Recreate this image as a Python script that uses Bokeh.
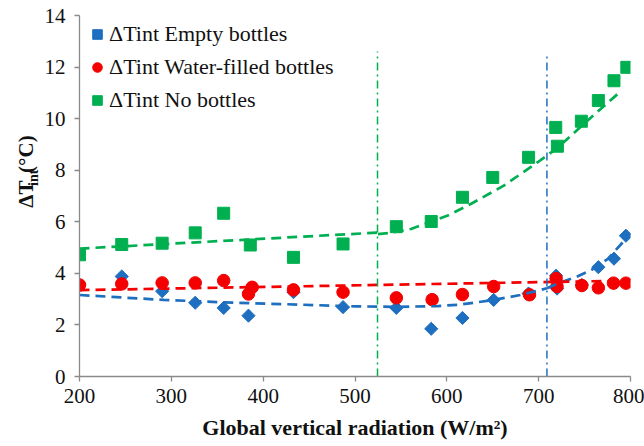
import math
from bokeh.plotting import figure
from bokeh.layouts import row
from bokeh.models import Range1d, Legend, LegendItem, FixedTicker, Label
from bokeh.embed import file_html
from bokeh.resources import INLINE

# ---------------- data ----------------
x_ticks = [200, 300, 400, 500, 600, 700, 800]
y_ticks = [0, 2, 4, 6, 8, 10, 12, 14]

empty_x = [200, 246, 290, 326, 357, 384, 433, 487, 545, 583, 617, 651, 689, 719, 720, 747, 765, 782, 795]
empty_y = [3.55, 3.88, 3.31, 2.86, 2.66, 2.36, 3.27, 2.69, 2.66, 1.85, 2.27, 2.97, 3.22, 3.91, 3.41, 3.55, 4.24, 4.57, 5.46]

water_x = [200, 246, 290, 326, 357, 384, 388, 433, 487, 545, 584, 617, 651, 690, 719, 720, 747, 765, 781.5, 795]
water_y = [3.55, 3.59, 3.63, 3.63, 3.72, 3.20, 3.46, 3.36, 3.27, 3.05, 2.98, 3.18, 3.49, 3.17, 3.80, 3.49, 3.53, 3.44, 3.62, 3.62]

none_x = [200, 246, 290, 326, 357, 386, 433, 487, 545, 583, 617, 650, 689, 718.6, 720.4, 746.5, 765, 782, 796]
none_y = [4.72, 5.12, 5.17, 5.57, 6.33, 5.10, 4.62, 5.14, 5.81, 6.01, 6.95, 7.72, 8.50, 9.66, 8.93, 9.90, 10.70, 11.47, 11.99]

# trend lines (dashed)
empty_trend1_x = [200, 292, 355, 409, 500, 545, 590, 615, 651, 680, 709]
empty_trend1_y = [3.16, 2.97, 2.88, 2.82, 2.72, 2.70, 2.73, 2.79, 2.97, 3.16, 3.42]
empty_trend2_x = [709, 724, 742, 757, 775, 789, 800]
empty_trend2_y = [3.42, 3.65, 3.88, 4.12, 4.55, 5.10, 5.55]

water_trend_x = [200, 800]
water_trend_y = [3.35, 3.72]

none_trend1_x = [200, 524.5]
none_trend1_y = [4.96, 5.58]
none_trend2_x = [525, 536, 561, 601, 626, 662, 699, 720, 749, 789]
none_trend2_y = [5.52, 5.56, 5.72, 6.24, 6.69, 7.40, 8.31, 8.85, 9.79, 11.05]

# thresholds (vertical dash-dot lines)
green_threshold_x = [524.5, 524.5]
green_threshold_y = [0, 12.6]
blue_threshold_x = [709, 709]
blue_threshold_y = [0, 12.55]

labels = ["\u0394Tint Empty bottles", "\u0394Tint Water-filled bottles", "\u0394Tint No bottles"]
y_title_parts = ["\u0394T", "int", " (\u00b0C)"]

BLUE = "#1E6FC0"
RED = "#F50000"
GREEN = "#00B050"
AXIS = "#8A8A8A"
INK = "#111111"
FONT = "Liberation Serif"

H = 446
TITLE_W = 41

# ---------------- narrow strip carrying the rotated y-axis title ----------------
t = figure(width=TITLE_W, height=H, x_range=Range1d(0, TITLE_W), y_range=Range1d(0, H),
           output_backend="svg", toolbar_location=None,
           min_border=0, min_border_left=0, min_border_right=0, min_border_top=0, min_border_bottom=0)
t.axis.visible = False
t.grid.visible = False
t.outline_line_color = None
t.background_fill_color = "white"
t.border_fill_color = "white"
common = dict(angle=math.pi / 2, text_font=FONT, text_font_style="bold",
              text_color=INK, text_align="left", text_baseline="bottom")
t.add_layout(Label(x=37.5, y=H - 237.5, text=y_title_parts[0], text_font_size="21px", **common))
t.add_layout(Label(x=40, y=H - 210.5, text=y_title_parts[1], text_font_size="14px", **common))
t.add_layout(Label(x=37.5, y=H - 194.5, text=y_title_parts[2], text_font_size="21px", **common))

# ---------------- main chart ----------------
p = figure(width=644 - TITLE_W, height=H, x_range=Range1d(200, 800), y_range=Range1d(0, 14),
           output_backend="svg", toolbar_location=None,
           min_border_left=77 - TITLE_W, min_border_right=14, min_border_top=15, min_border_bottom=70)
p.outline_line_color = None
p.grid.visible = False
p.background_fill_color = "white"
p.border_fill_color = "white"

for ax in (p.xaxis[0], p.yaxis[0]):
    ax.axis_line_color = AXIS
    ax.axis_line_width = 1.3
    ax.major_tick_line_color = AXIS
    ax.major_tick_line_width = 1.3
    ax.major_tick_in = 0
    ax.major_tick_out = 5
    ax.minor_tick_line_color = None
    ax.major_label_text_font = FONT
    ax.major_label_text_font_size = "21px"
    ax.major_label_text_color = INK

p.xaxis.ticker = FixedTicker(ticks=x_ticks)
p.yaxis.ticker = FixedTicker(ticks=y_ticks)
p.xaxis.major_label_standoff = 7
p.yaxis.major_label_standoff = 9
p.xaxis.axis_label = "Global vertical radiation (W/m\u00b2)"
p.xaxis.axis_label_text_font = FONT
p.xaxis.axis_label_text_font_style = "bold"
p.xaxis.axis_label_text_font_size = "22px"
p.xaxis.axis_label_text_color = INK
p.xaxis.axis_label_standoff = 9

# markers
r_empty = p.scatter(empty_x, empty_y, marker="square", angle=math.pi / 4, size=9.3,
                    fill_color=BLUE, line_color=BLUE)
r_water = p.scatter(water_x, water_y, marker="circle", size=12.5,
                    fill_color=RED, line_color=RED)
r_none = p.scatter(none_x, none_y, marker="square", size=12,
                   fill_color=GREEN, line_color=GREEN)

# trend lines
dash = "10 6"
p.line(empty_trend1_x, empty_trend1_y, line_color=BLUE, line_width=2.7, line_dash=dash)
p.line(empty_trend2_x, empty_trend2_y, line_color=BLUE, line_width=2.7, line_dash=dash)
p.line(water_trend_x, water_trend_y, line_color=RED, line_width=2.7, line_dash=dash)
p.line(none_trend1_x, none_trend1_y, line_color=GREEN, line_width=2.7, line_dash=dash)
p.line(none_trend2_x, none_trend2_y, line_color=GREEN, line_width=2.7, line_dash=dash)

# threshold lines
p.line(green_threshold_x, green_threshold_y, line_color=GREEN, line_width=1.5, line_dash="8 4 2 4")
p.line(blue_threshold_x, blue_threshold_y, line_color=BLUE, line_width=1.5, line_dash="8 4 2 4")

legend = Legend(items=[LegendItem(label=labels[0], renderers=[r_empty]),
                       LegendItem(label=labels[1], renderers=[r_water]),
                       LegendItem(label=labels[2], renderers=[r_none])],
                location="top_left", margin=0, padding=6, spacing=7,
                glyph_width=24, glyph_height=26, label_height=26, label_standoff=0,
                label_text_font=FONT, label_text_font_size="22px", label_text_color=INK,
                background_fill_alpha=0, border_line_alpha=0)
p.add_layout(legend)

layout = row(t, p, spacing=0)
open("out.html", "w").write(file_html(layout, INLINE))
